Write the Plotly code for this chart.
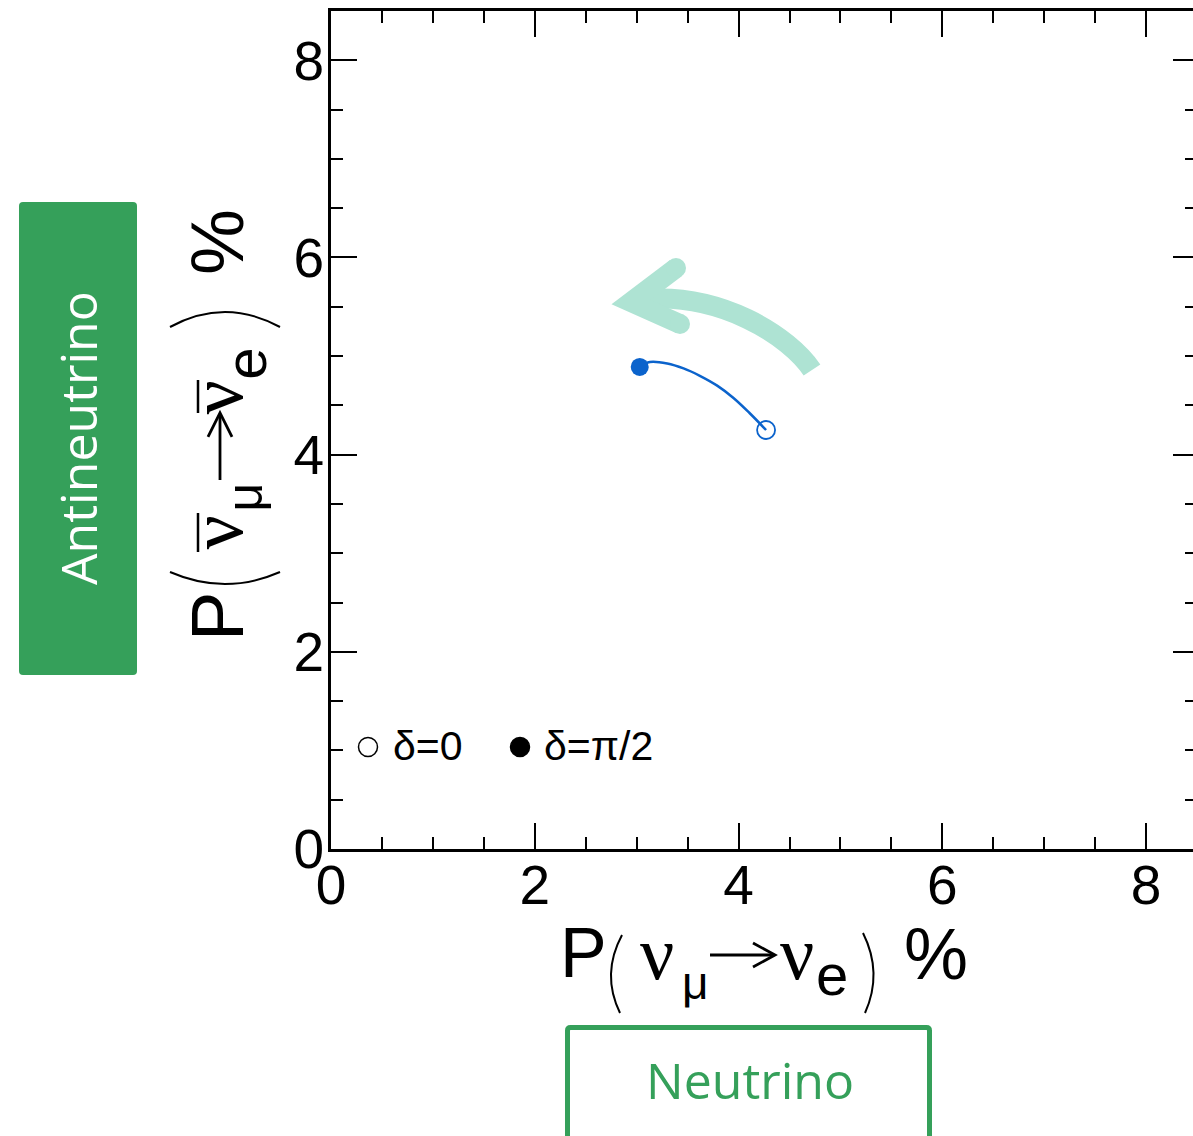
import plotly.graph_objects as go

# ---------------- data ----------------
p_nu = [4.27, 4.11, 3.95, 3.79, 3.62, 3.46, 3.30, 3.13, 3.03]      # P(nu_mu -> nu_e) %
p_nubar = [4.25, 4.42, 4.575, 4.70, 4.80, 4.875, 4.925, 4.94, 4.89]  # P(anti) %
legend_labels = ["δ=0", "δ=π/2"]
x_ticks = [0, 2, 4, 6, 8]
y_ticks = [0, 2, 4, 6, 8]
x_range = [0, 8.46]
y_range = [0, 8.5]

BLUE = "#0B63CC"
GREEN = "#35A05A"
LIGHT = "#AEE3D3"
FONT = "Liberation Sans"

W, H = 1193, 1136
L, T, R, B = 331, 11, 0, 287
PW = W - L - R
PH = H - T - B
Y0 = T + PH


def pp(x, y):
    return (x - L) / PW, (Y0 - y) / PH


def path(cmds):
    out = []
    for c in cmds:
        if isinstance(c, str):
            out.append(c)
        else:
            a, b = pp(*c)
            out.append(f"{a:.5f},{b:.5f}")
    return " ".join(out)


fig = go.Figure()
fig.add_trace(go.Scatter(x=p_nu, y=p_nubar, mode="lines",
                         line=dict(color=BLUE, width=2.5, shape="spline", smoothing=1.0),
                         showlegend=False, hoverinfo="skip"))
fig.add_trace(go.Scatter(x=[p_nu[0]], y=[p_nubar[0]], mode="markers",
                         marker=dict(symbol="circle-open", size=18, color=BLUE,
                                     line=dict(width=1.8, color=BLUE)),
                         showlegend=False))
fig.add_trace(go.Scatter(x=[p_nu[-1]], y=[p_nubar[-1]], mode="markers",
                         marker=dict(symbol="circle", size=18, color=BLUE),
                         showlegend=False))
fig.add_trace(go.Scatter(x=[None], y=[None], yaxis="y2", showlegend=False))

shapes = []
annotations = []


def txt(cx, base, s, size, family=FONT, color="black", angle=0):
    if angle == 0:
        x, y = pp(cx, base - 0.35 * size)
    else:
        x, y = pp(base - 0.35 * size, cx)
    annotations.append(dict(x=x, y=y, xref="paper", yref="paper", text=s,
                            showarrow=False, xanchor="center", yanchor="middle",
                            textangle=angle,
                            font=dict(family=family, size=size, color=color)))


def line_path(cmds, width, color="black"):
    shapes.append(dict(type="path", xref="paper", yref="paper", path=path(cmds),
                       line=dict(color=color, width=width)))


# ---- x title ----
txt(583, 978, "P", 70)
txt(657, 980, "ν", 76, "Liberation Serif")
txt(695, 999, "μ", 46)
line_path(["M", (710, 955), "L", (773, 955)], 2.8)
line_path(["M", (753, 943), "L", (775, 955), "L", (753, 967)], 2.8)
txt(797, 980, "ν", 76, "Liberation Serif")
txt(832, 995, "e", 58)
txt(936, 979, "%", 72)
line_path(["M", (622, 935), "Q", (601, 974), (620, 1013)], 2)
line_path(["M", (863, 933), "Q", (883, 973), (865, 1013)], 2)

# ---- y title (rotated) ----
txt(617, 243, "P", 74, angle=-90)
line_path(["M", (170, 572), "Q", (225, 596), (280, 572)], 2)
txt(532, 243, "ν", 76, "Liberation Serif", angle=-90)
line_path(["M", (198, 513), "L", (198, 552)], 2.5)
txt(497, 262, "μ", 50, angle=-90)
line_path(["M", (220, 480), "L", (220, 415)], 2.8)
line_path(["M", (208, 437), "L", (220, 413), "L", (232, 437)], 2.8)
txt(397, 243, "ν", 76, "Liberation Serif", angle=-90)
line_path(["M", (198, 380), "L", (198, 413)], 2.5)
txt(364, 265, "e", 58, angle=-90)
line_path(["M", (170, 327), "Q", (225, 297), (280, 327)], 2)
txt(242, 243, "%", 74, angle=-90)

# ---- side boxes ----
def rrect(x0, y0, x1, y1, r):
    return ["M", (x0 + r, y0), "L", (x1 - r, y0), "Q", (x1, y0), (x1, y0 + r),
            "L", (x1, y1 - r), "Q", (x1, y1), (x1 - r, y1), "L", (x0 + r, y1),
            "Q", (x0, y1), (x0, y1 - r), "L", (x0, y0 + r), "Q", (x0, y0), (x0 + r, y0), "Z"]


shapes.append(dict(type="path", xref="paper", yref="paper",
                   path=path(rrect(19, 202, 137, 675, 4)),
                   fillcolor=GREEN, line=dict(width=0)))
annotations.append(dict(x=pp(78, 0)[0], y=pp(0, 438)[1], xref="paper", yref="paper",
                        text="Antineutrino", showarrow=False, textangle=-90,
                        xanchor="center", yanchor="middle",
                        font=dict(family="Open Sans", size=50, color="white")))
shapes.append(dict(type="path", xref="paper", yref="paper",
                   path=path(rrect(567.5, 1027.5, 929.5, 1150, 3)),
                   fillcolor="white", line=dict(width=5, color=GREEN)))
annotations.append(dict(x=pp(750, 0)[0], y=pp(0, 1080)[1], xref="paper", yref="paper",
                        text="Neutrino", showarrow=False,
                        xanchor="center", yanchor="middle",
                        font=dict(family="Open Sans", size=50, color=GREEN)))

# ---- big light arrow ----
line_path(["M", (812, 370), "C", (790, 337), (720, 290), (636, 300)], 20, LIGHT)
line_path(["M", (676, 268), "L", (631, 302), "L", (680, 324)], 20, LIGHT)
for cx, cy in [(676, 268), (680, 324)]:
    a0, b0 = pp(cx - 10, cy + 10)
    a1, b1 = pp(cx + 10, cy - 10)
    shapes.append(dict(type="circle", xref="paper", yref="paper", x0=a0, x1=a1,
                       y0=b0, y1=b1, fillcolor=LIGHT, line=dict(width=0)))

# ---- pseudo legend ----
for (cx, tx), lab, filled in zip([(368, 391), (520, 542)], legend_labels, [False, True]):
    a, b = pp(cx, 747)
    shapes.append(dict(type="circle", xref="paper", yref="paper", xsizemode="pixel",
                       ysizemode="pixel", xanchor=a, yanchor=b, x0=-9.5, x1=9.5,
                       y0=-9.5, y1=9.5, fillcolor="black" if filled else "white",
                       line=dict(color="black", width=1.5)))
    a2, b2 = pp(tx, 760 - 0.35 * 41)
    annotations.append(dict(x=a2, y=b2, xref="paper", yref="paper", text=lab,
                            showarrow=False, xanchor="left", yanchor="middle",
                            font=dict(family=FONT, size=41, color="black")))

axis_common = dict(ticks="inside", tickwidth=2, tickcolor="black",
                   showgrid=False, zeroline=False,
                   tickfont=dict(family=FONT, size=55, color="black"))

fig.update_layout(
    width=W, height=H, margin=dict(l=L, r=R, t=T, b=B),
    paper_bgcolor="white", plot_bgcolor="white", showlegend=False,
    xaxis=dict(range=x_range, tickvals=x_ticks, ticklen=26, showline=True,
               linewidth=3, linecolor="black", mirror="ticks",
               ticklabelstandoff=-14,
               minor=dict(dtick=0.5, tick0=0, ticklen=12, tickwidth=2,
                          ticks="inside", tickcolor="black", showgrid=False),
               **axis_common),
    yaxis=dict(range=y_range, tickvals=y_ticks, ticklen=26, showline=True,
               linewidth=3, linecolor="black", mirror=False,
               ticklabelstandoff=-7,
               minor=dict(dtick=0.5, tick0=0, ticklen=12, tickwidth=2,
                          ticks="inside", tickcolor="black", showgrid=False),
               **axis_common),
    yaxis2=dict(range=y_range, overlaying="y", side="right", tickvals=y_ticks,
                ticklen=20, showline=False, showticklabels=False,
                minor=dict(dtick=0.5, tick0=0, ticklen=8, tickwidth=2,
                           ticks="inside", tickcolor="black", showgrid=False),
                ticks="inside", tickwidth=2, tickcolor="black",
                showgrid=False, zeroline=False),
    shapes=shapes, annotations=annotations,
)

fig.write_html("out.html")
